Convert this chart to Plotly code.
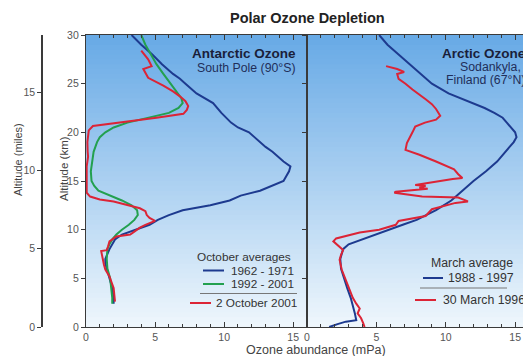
import plotly.graph_objects as go

# ---------------- data ----------------
# Antarctic (South Pole) profiles: altitude (km) and ozone (mPa)
ant_1962_alt = [30, 29, 28, 27, 26, 25.5, 25, 24, 23, 22, 21, 20.5, 20, 19, 18.5, 18, 17, 16.5, 16, 15,
                14.5, 14, 13.5, 13, 12.5, 12.2, 12, 11.5, 11, 10.5, 10, 9.5, 9, 8.5, 8, 7, 6.5, 6, 5, 4, 3, 2.4]
ant_1962_o3 = [3.3, 4.0, 4.8, 5.5, 6.3, 6.8, 7.2, 8.0, 9.2, 9.8, 10.5, 11.0, 11.8, 12.6, 13.0, 13.5, 14.3, 14.8, 14.7, 14.3,
               13.5, 12.6, 11.2, 10.4, 9.0, 7.6, 7.0, 6.0, 5.2, 4.6, 3.6, 2.6, 2.1, 1.9, 1.7, 1.4, 1.4, 1.5, 1.7, 1.9, 2.0, 2.0]

ant_1992_alt = [30, 29, 28, 27, 26, 25, 24, 23.5, 23, 22.5, 22, 21.5, 21, 20.5, 20, 19.5, 19, 18, 17, 16, 15,
                14.5, 14, 13.5, 13, 12.5, 12, 11.5, 11, 10.5, 10, 9.5, 9, 8.5, 8, 7, 6, 5, 4, 3, 2.4]
ant_1992_o3 = [4.0, 4.3, 4.7, 5.1, 5.6, 6.1, 6.6, 6.9, 7.0, 6.7, 6.0, 4.6, 3.0, 2.0, 1.4, 1.0, 0.8, 0.55, 0.45, 0.35, 0.4,
               0.6, 0.9, 1.8, 2.6, 3.3, 3.7, 3.75, 3.5, 3.1, 2.6, 2.2, 1.9, 1.7, 1.55, 1.5, 1.55, 1.75, 1.85, 1.9, 1.9]

ant_2001_alt = [28.4, 27.5, 26.8, 26.5, 25.6, 24.8, 24.2, 23.7, 23.2, 22.7, 22.3, 21.9, 21.5, 21.2, 21.0, 20.8, 20.65,
                20.2, 19.8, 19, 18, 17.5, 16.5, 15.2, 14.5, 13.8, 13.4, 13.1, 12.9, 12.5, 12.2, 11.9, 11.5, 11.2,
                10.9, 10.5, 10.2, 9.8, 9.5, 9.3, 8.8, 8.3, 7.9, 7.8, 7.4, 6.9, 6.4, 5.9, 5.5, 5.2, 4.6, 4.0, 3.3, 2.6]
ant_2001_o3 = [4.0, 4.5, 4.75, 4.15, 4.5, 5.6, 6.3, 6.8, 7.2, 7.4, 7.3, 7.05, 5.1, 3.5, 2.2, 1.0, 0.5,
               0.2, 0.15, 0.1, 0.12, 0.15, 0.05, 0.05, 0.1, 0.05, 0.3, 1.0, 2.0, 3.2, 3.9, 4.3, 4.4, 4.6,
               5.0, 4.3, 3.9, 3.5, 3.2, 2.2, 1.7, 1.6, 1.5, 1.1, 1.15, 1.25, 1.3, 1.4, 1.55, 1.7, 1.85, 2.0, 2.05, 2.1]

# Arctic (Sodankyla) profiles
arc_1988_alt = [30, 29, 28, 27, 26, 25, 24, 23, 22.5, 22, 21.5, 21, 20.5, 20, 19.5, 19, 18.5, 18, 17, 16, 15, 14,
                13, 12, 11, 10.5, 10, 9.5, 9, 8.5, 8, 7, 6, 5, 4, 3, 2, 1.4, 0.7, 0.55, 0.3, 0]
arc_1988_o3 = [5.2, 5.8, 6.6, 7.4, 8.2, 9.0, 10.2, 12.0, 12.8, 13.5, 14.1, 14.4, 14.7, 15.0, 15.1, 14.9, 14.6, 14.3,
               13.7, 12.9, 12.0, 11.2, 10.4, 9.3, 7.9, 6.9, 5.9, 4.9, 3.9, 3.0, 2.6, 2.4, 2.45, 2.65, 2.9, 3.15, 3.35,
               3.45, 3.55, 2.8, 2.2, 1.6]

arc_1996_alt = [26.8, 26.5, 26.2, 26.0, 25.5, 25.0, 24.4, 23.9, 23.4, 22.9, 22.4, 21.7, 21.3, 21.0, 20.6, 20.0, 19.5,
                18.9, 18.2, 17.7, 17.0, 16.6, 16.2, 15.7, 15.3, 15.2, 14.9, 14.6, 14.5, 14.3, 14.2, 13.9, 13.8, 13.6,
                13.4, 13.3, 12.9, 12.75, 12.4, 12.1, 11.4, 10.9, 10.5, 10.0, 9.7, 9.4, 9.1, 8.8, 8.3, 7.9, 7.4, 6.9,
                5.9, 4.8, 3.8, 3.0, 2.4, 1.9, 1.4, 0.9, 0.4, 0]
arc_1996_o3 = [5.7, 6.5, 7.0, 6.5, 6.6, 7.1, 7.6, 8.1, 8.55, 9.0, 9.3, 9.6, 9.3, 8.5, 7.8, 7.6, 7.4,
               7.2, 7.1, 8.1, 9.3, 9.9, 10.6, 10.9, 11.2, 10.5, 9.2, 7.8, 8.55, 8.1, 8.7, 6.4, 6.3, 7.3,
               8.3, 10.9, 11.6, 10.7, 9.7, 9.0, 8.55, 6.6, 6.4, 5.2, 3.8, 2.9, 2.1, 1.9, 2.3, 2.6, 2.45, 2.35,
               2.5, 2.8, 3.1, 3.3, 3.55, 3.8, 3.65, 3.9, 4.05, 4.15]

x_ticks = [0, 5, 10, 15]
km_ticks = [0, 5, 10, 15, 20, 25, 30]
mile_ticks = [0, 5, 10, 15]
KM_PER_MILE = 1.609344

# ---------------- layout helpers ----------------
# the page body has an 8px margin; figure is shrunk and coordinates shifted to compensate
OFF = 8
W, H = 531 - OFF, 356 - OFF
ML, MR, MT, MB = 42 - OFF, 2, 35 - OFF, 29
PW, PH = W - ML - MR, H - MT - MB


def px(x):
    return (x - OFF - ML) / PW


def py(y):
    return (H - MB - (y - OFF)) / PH


SPLIT = px(307)
LEFT0 = px(86)

BLUE = "#1d3a8f"
GREEN = "#23a04f"
RED = "#dc2436"
AXC = "#3a3a3a"
TXT = "#555555"
FONT = "Liberation Sans, Arial, sans-serif"

fig = go.Figure()

lw = 2.0
fig.add_trace(go.Scatter(x=ant_1962_o3, y=ant_1962_alt, mode="lines", line=dict(color=BLUE, width=lw),
                         xaxis="x", yaxis="y", showlegend=False))
fig.add_trace(go.Scatter(x=ant_1992_o3, y=ant_1992_alt, mode="lines", line=dict(color=GREEN, width=lw),
                         xaxis="x", yaxis="y", showlegend=False))
fig.add_trace(go.Scatter(x=ant_2001_o3, y=ant_2001_alt, mode="lines", line=dict(color=RED, width=lw),
                         xaxis="x", yaxis="y", showlegend=False))
fig.add_trace(go.Scatter(x=arc_1988_o3, y=arc_1988_alt, mode="lines", line=dict(color=BLUE, width=lw),
                         xaxis="x2", yaxis="y2", showlegend=False))
fig.add_trace(go.Scatter(x=arc_1996_o3, y=arc_1996_alt, mode="lines", line=dict(color=RED, width=lw),
                         xaxis="x2", yaxis="y2", showlegend=False))
# carrier for miles axis
fig.add_trace(go.Scatter(x=[None], y=[None], xaxis="x", yaxis="y3", showlegend=False, hoverinfo="skip"))

tickfont = dict(family=FONT, size=10.5, color=TXT)
xcommon = dict(range=[0, 16], tickvals=x_ticks, ticks="inside", ticklen=5, tickcolor=AXC, showline=True,
               linecolor=AXC, linewidth=1.2, mirror="ticks", showgrid=False, zeroline=False, tickfont=tickfont,
               minor=dict(dtick=1, ticks="inside", ticklen=3, tickcolor=AXC), fixedrange=True)

fig.update_layout(
    width=W, height=H, margin=dict(l=ML, r=MR, t=MT, b=MB, autoexpand=False),
    paper_bgcolor="white", plot_bgcolor="rgba(0,0,0,0)",
    font=dict(family=FONT, color=TXT),
    xaxis=dict(domain=[LEFT0, SPLIT], anchor="y", **xcommon),
    xaxis2=dict(domain=[SPLIT, 1.0], anchor="y2", **xcommon),
    yaxis=dict(domain=[0, 1], range=[0, 30], tickvals=km_ticks, ticks="outside", ticklen=4, tickcolor=AXC,
               showline=True, linecolor=AXC, linewidth=1.2, mirror=True, showgrid=False, zeroline=False,
               tickfont=tickfont, anchor="x"),
    yaxis2=dict(domain=[0, 1], range=[0, 30], tickvals=km_ticks, ticks="outside", ticklen=4, tickcolor=AXC,
                showline=True, linecolor=AXC, linewidth=1.2, mirror="allticks", showgrid=False, zeroline=False,
                showticklabels=False, anchor="x2"),
    yaxis3=dict(range=[0, 30 / KM_PER_MILE], tickvals=mile_ticks, ticks="outside", ticklen=4, tickcolor=AXC,
                showline=True, linecolor=AXC, linewidth=1.5, showgrid=False, zeroline=False, tickfont=tickfont,
                anchor="free", position=0, overlaying="y", side="left"),
)

# gradient background (vertical), behind both panels
N = 60
top = (104, 170, 230)
bot = (238, 246, 252)
for i in range(N):
    t = i / (N - 1)
    c = tuple(round(top[k] + (bot[k] - top[k]) * t) for k in range(3))
    y0 = max(0.0, 1 - (i + 1) / N - 0.004)
    y1 = 1 - i / N
    fig.add_shape(type="rect", xref="paper", yref="paper", x0=LEFT0, x1=1.0,
                  y0=y0, y1=y1, line_width=0,
                  fillcolor="rgb(%d,%d,%d)" % c, layer="below")

ann = []


def text(x, y, s, size=11, color=TXT, bold=False, xanchor="center", angle=0):
    ann.append(dict(x=px(x), y=py(y), xref="paper", yref="paper", text=("<b>%s</b>" % s) if bold else s,
                    showarrow=False, xanchor=xanchor, yanchor="middle", textangle=angle, borderpad=0,
                    font=dict(family=FONT, size=size, color=color)))


text(307, 18, "Polar Ozone Depletion", size=14.5, color="#222222", bold=True)
text(64, 169, "Altitude (km)", size=11.5, color="#444444", angle=-90)
text(18, 160, "Altitude (miles)", size=11, color="#444444", angle=-90)
text(316, 349.5, "Ozone abundance (mPa)", size=12.5, color="#444444")

text(297, 53, "Antarctic Ozone", size=13.5, color="#1a1f3a", bold=True, xanchor="right")
text(297, 68, "South Pole (90°S)", size=12.3, color="#1f2e5a", xanchor="right")
text(527, 53, "Arctic Ozone", size=13.5, color="#1a1f3a", bold=True, xanchor="right")
text(522, 67, "Sodankyla,", size=12.3, color="#1f2e5a", xanchor="right")
text(526, 80, "Finland (67°N)", size=12.3, color="#1f2e5a", xanchor="right")

# legends
LG = "#333333"
text(244, 257, "October averages", size=11.8, color=LG)
text(230, 270.5, "1962 - 1971", size=11.8, color=LG, xanchor="left")
text(230, 284, "1992 - 2001", size=11.8, color=LG, xanchor="left")
text(215, 303, "2 October 2001", size=11.8, color=LG, xanchor="left")

text(472, 263, "March average", size=12.3, color=LG)
text(447, 278, "1988 - 1997", size=12.3, color=LG, xanchor="left")
text(442, 300, "30 March 1996", size=12.3, color=LG, xanchor="left")

fig.update_layout(annotations=ann)


def seg(x0, x1, y, color, w=2):
    fig.add_shape(type="line", xref="paper", yref="paper", x0=px(x0), x1=px(x1), y0=py(y), y1=py(y),
                  line=dict(color=color, width=w))


seg(203, 224, 270.5, BLUE)
seg(203, 224, 284, GREEN)
seg(200, 297, 293.5, "#777777", 1)
seg(190, 211, 303, RED)

seg(423, 443, 278, BLUE)
seg(420, 507, 288, "#777777", 1)
seg(415, 436, 300, RED)

fig.write_html("out.html")
